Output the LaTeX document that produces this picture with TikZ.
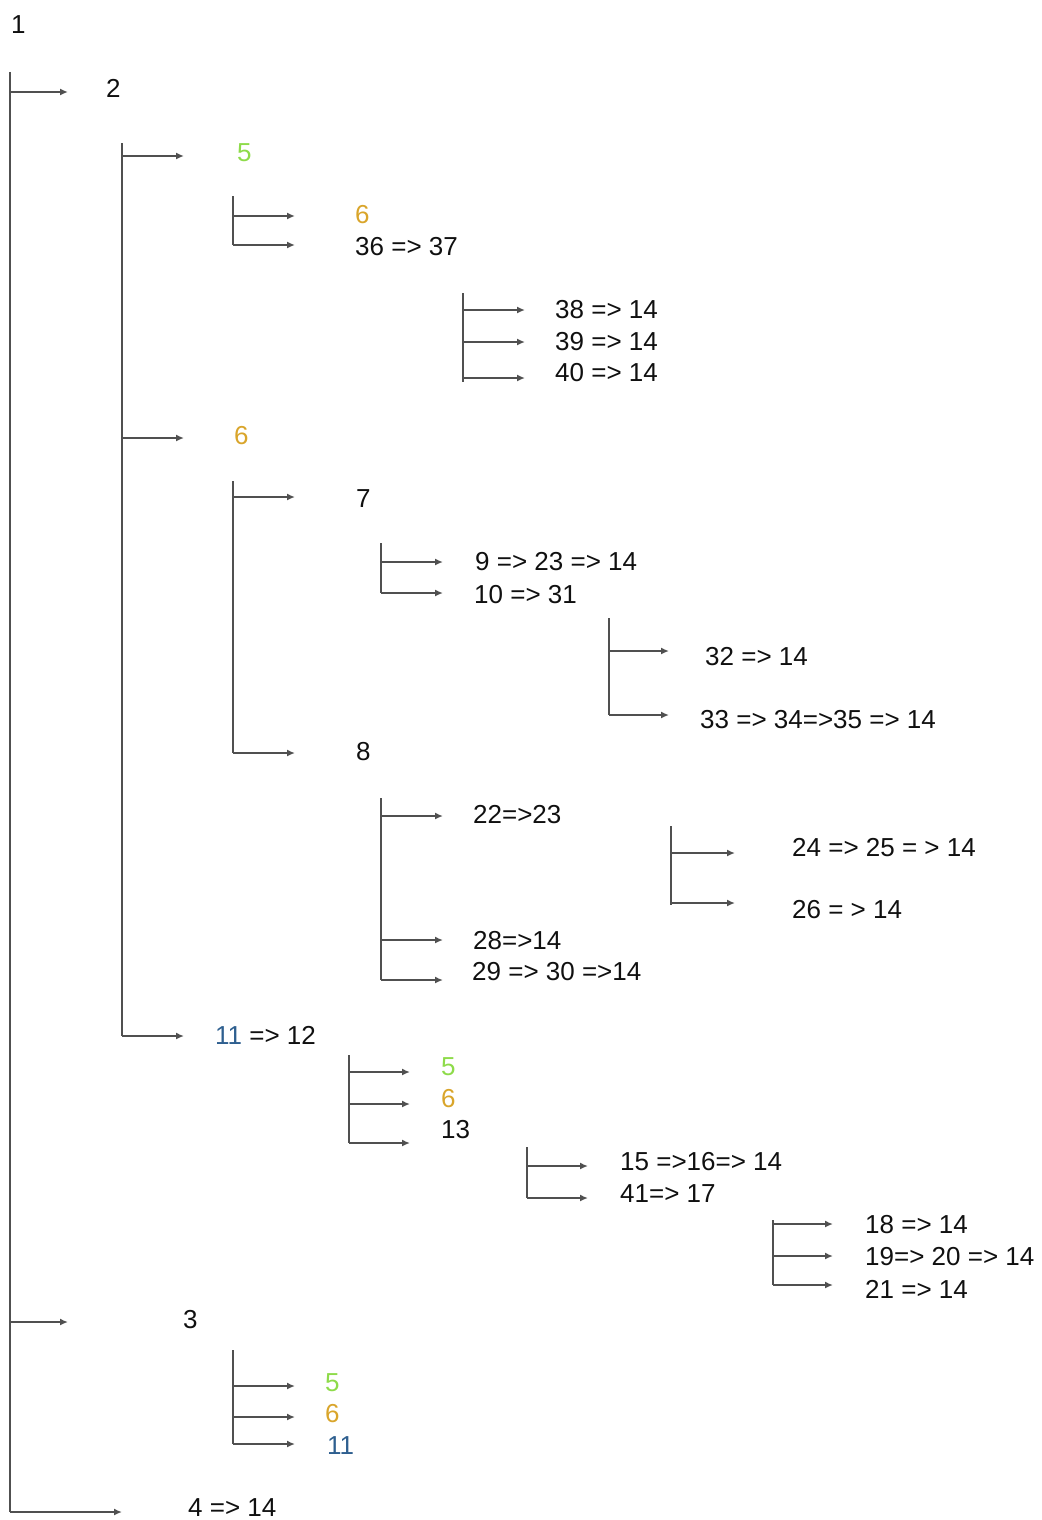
\documentclass[tikz,border=0pt]{standalone}
\usepackage{fontspec}
\setmainfont{Liberation Sans}
\usetikzlibrary{arrows.meta}
\definecolor{lgreen}{HTML}{8EDB4A}
\definecolor{lorange}{HTML}{D9A52B}
\definecolor{lblue}{HTML}{2E5F8F}
\definecolor{ltext}{HTML}{101010}
\definecolor{lline}{HTML}{505050}
\begin{document}
\begin{tikzpicture}[x=1pt,y=-1pt,
  lbl/.style={anchor=west,inner sep=0pt,font=\fontsize{26}{30}\selectfont,text=ltext},
  vline/.style={draw=lline,line width=2.2pt},
  arr/.style={draw=lline,line width=2.2pt,-{Latex[length=8pt,width=7pt]},color=lline}]
\useasboundingbox (0,0) rectangle (1041,1520);
% labels
\node[lbl] (n1) at (11,25) {1};
\node[lbl] (n2) at (106,88) {2};
\node[lbl,text=lgreen] (n5a) at (237,153) {5};
\node[lbl,text=lorange] (n6a) at (355,215) {6};
\node[lbl] (n36) at (355,247) {36 => 37};
\node[lbl] (n38) at (555,310) {38 => 14};
\node[lbl] (n39) at (555,342) {39 => 14};
\node[lbl] (n40) at (555,373) {40 => 14};
\node[lbl,text=lorange] (n6b) at (234,436) {6};
\node[lbl] (n7) at (356,499) {7};
\node[lbl] (n9) at (475,562) {9 => 23 => 14};
\node[lbl] (n10) at (474,595) {10 => 31};
\node[lbl] (n32) at (705,657) {32 => 14};
\node[lbl] (n33) at (700,720) {33 => 34=>35 => 14};
\node[lbl] (n8) at (356,752) {8};
\node[lbl] (n22) at (473,815) {22=>23};
\node[lbl] (n24) at (792,848) {24 => 25 = > 14};
\node[lbl] (n26) at (792,910) {26 = > 14};
\node[lbl] (n28) at (473,941) {28=>14};
\node[lbl] (n29) at (472,972) {29 => 30 =>14};
\node[lbl] (n11) at (215,1035) {\textcolor{lblue}{11} => 12};
\node[lbl,text=lgreen] (n5b) at (441,1067) {5};
\node[lbl,text=lorange] (n6c) at (441,1099) {6};
\node[lbl] (n13) at (441,1130) {13};
\node[lbl] (n15) at (620,1162) {15 =>16=> 14};
\node[lbl] (n41) at (620,1194) {41=> 17};
\node[lbl] (n18) at (865,1225) {18 => 14};
\node[lbl] (n19) at (865,1257) {19=> 20 => 14};
\node[lbl] (n21) at (865,1289) {21 => 14};
\node[lbl] (n3) at (183,1320) {3};
\node[lbl,text=lgreen] (n5c) at (325,1383) {5};
\node[lbl,text=lorange] (n6d) at (325,1414) {6};
\node[lbl,text=lblue] (n11b) at (327,1446) {11};
\node[lbl] (n4) at (188,1508) {4 => 14};
% vertical bars
\foreach \x/\ya/\yb in {10/72/1512, 122/143/1036, 233/196/245, 463/293/382,
  233/481/753, 381/543/593, 609/618/715, 381/798/980, 671/826/905,
  349/1055/1143, 527/1147/1198, 773/1220/1285, 233/1350/1444}
  \draw[vline] (\x,\ya) -- (\x,\yb);
% arrows
\foreach \xa/\y/\xb in {10/92/68, 10/1322/68, 10/1512/122,
  122/156/184, 122/438/184, 122/1036/184,
  233/216/295, 233/245/295,
  463/310/525, 463/342/525, 463/378/525,
  233/497/295, 233/753/295,
  381/562/443, 381/593/443,
  609/651/669, 609/715/669,
  381/816/443, 381/940/443, 381/980/443,
  671/853/735, 671/903/735,
  349/1072/410, 349/1104/410, 349/1143/410,
  527/1166/588, 527/1198/588,
  773/1224/833, 773/1256/833, 773/1285/833,
  233/1386/295, 233/1417/295, 233/1444/295}
  \draw[arr] (\xa,\y) -- (\xb,\y);
\end{tikzpicture}
\end{document}
